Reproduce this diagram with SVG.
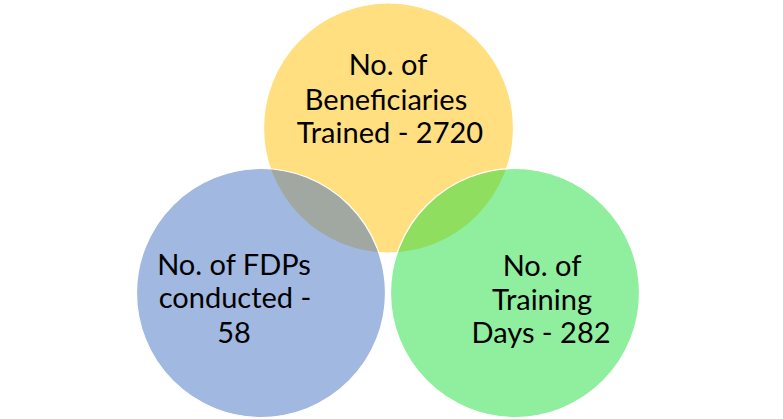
<svg xmlns="http://www.w3.org/2000/svg" width="783" height="419" viewBox="0 0 783 419">
<style>
.c{stroke:#ffffff;stroke-width:1.2}
.t{font-family:Lato,"Liberation Sans",sans-serif;font-size:29px;fill:#000;text-anchor:middle}
</style>
<rect width="783" height="419" fill="#ffffff"/>
<g id="beneficiaries">
<circle class="c" cx="388.5" cy="128" r="125" fill="#FFC000" fill-opacity="0.5"/>
</g>
<g id="fdps">
<circle class="c" cx="261" cy="293" r="124.5" fill="#4472C4" fill-opacity="0.5"/>
</g>
<g id="training">
<circle class="c" cx="515" cy="293" r="124.5" fill="#22DD3F" fill-opacity="0.5"/>
</g>
<g id="labels">
<text class="t" x="388" y="75">No. of</text>
<text class="t" x="386" y="110">Beneficiaries</text>
<text class="t" x="390" y="143">Trained - 2720</text>
<text class="t" x="234" y="275">No. of FDPs</text>
<text class="t" x="235" y="308">conducted -</text>
<text class="t" x="234" y="343">58</text>
<text class="t" x="542" y="276">No. of</text>
<text class="t" x="542" y="310">Training</text>
<text class="t" x="541" y="343">Days - 282</text>
</g>
</svg>
